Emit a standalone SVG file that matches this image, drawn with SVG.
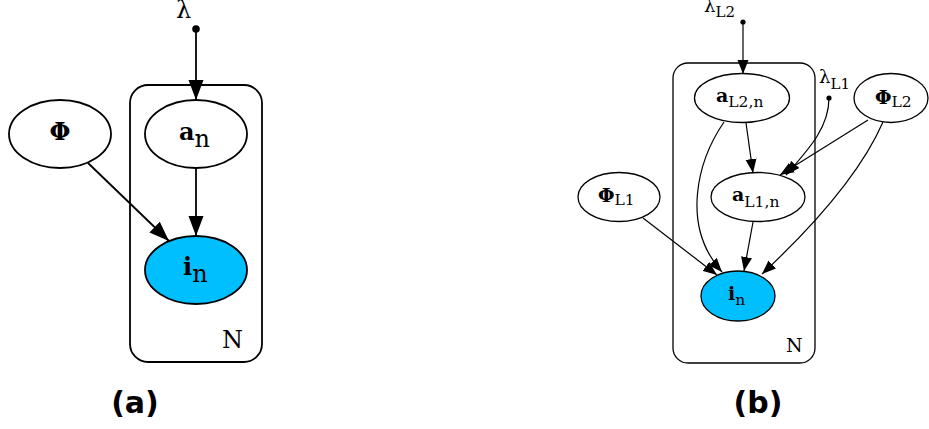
<svg xmlns="http://www.w3.org/2000/svg" width="929" height="429" viewBox="0 0 929 429">
<style>
.e{fill:#fff;stroke:#000;stroke-width:1.8}
.es{fill:#fff;stroke:#000;stroke-width:1.3}
.obs{fill:#00bfff}
.plate{fill:none;stroke:#000;stroke-width:1.8}
.plates{fill:none;stroke:#000;stroke-width:1.3}
.c{fill:none;stroke:#000;stroke-width:1.8}
.cs{fill:none;stroke:#000;stroke-width:1.2}
text{font-family:"DejaVu Serif",serif;fill:#000}
.b{font-weight:bold}
.cap{font-family:"DejaVu Sans",sans-serif;font-weight:bold;font-size:30px}
</style>
<defs>
<marker id="ah" markerUnits="userSpaceOnUse" markerWidth="20" markerHeight="16" refX="20" refY="8" orient="auto">
<path d="M0,0.5 L20,8 L0,15.5 Z" fill="#000"/>
</marker>
<marker id="as" markerUnits="userSpaceOnUse" markerWidth="14" markerHeight="12" refX="14" refY="6" orient="auto">
<path d="M0,0.5 L14,6 L0,11.5 Z" fill="#000"/>
</marker>
</defs>

<!-- Panel (a) -->
<g id="a-plate"><rect class="plate" x="130" y="85" width="132" height="277" rx="18"/><text x="222" y="348" font-size="24">N</text></g>
<g id="a-lambda"><text x="176" y="18" font-size="24">λ</text><circle cx="196" cy="29" r="3.8"/></g>
<g id="a-phi"><ellipse class="e" cx="60" cy="134" rx="51" ry="34"/><text class="b" x="60" y="140" font-size="24" text-anchor="middle">Φ</text></g>
<g id="a-an"><ellipse class="e" cx="196" cy="134" rx="51" ry="34"/><text x="179" y="140" font-size="24"><tspan class="b">a</tspan><tspan y="147">n</tspan></text></g>
<g id="a-in"><ellipse class="e obs" cx="196" cy="270" rx="51" ry="34"/><text x="183" y="275" font-size="24"><tspan class="b">i</tspan><tspan y="282">n</tspan></text></g>
<text class="cap" x="135" y="413" text-anchor="middle">(a)</text>

<!-- Panel (b) -->
<g id="b-plate"><rect class="plates" x="673" y="63" width="142" height="300" rx="15"/><text x="786" y="352" font-size="19">N</text></g>
<g id="b-lambdaL2"><text x="704" y="12" font-size="18">λ<tspan y="17" font-size="15">L2</tspan></text><circle cx="743" cy="22" r="2.6"/></g>
<g id="b-lambdaL1"><text x="819" y="83" font-size="18">λ<tspan y="89" font-size="15">L1</tspan></text><circle cx="829" cy="98" r="2.6"/></g>
<g id="b-aL2n"><ellipse class="es" cx="742" cy="98" rx="47.5" ry="24.5"/><text x="716" y="102" font-size="19"><tspan class="b">a</tspan><tspan y="107" font-size="15.5">L2,n</tspan></text></g>
<g id="b-phiL2"><ellipse class="es" cx="891" cy="98" rx="37" ry="24.5"/><text x="875" y="104" font-size="19"><tspan class="b">Φ</tspan><tspan y="107" font-size="15.5">L2</tspan></text></g>
<g id="b-aL1n"><ellipse class="es" cx="758" cy="197" rx="47" ry="24.5"/><text x="732" y="201" font-size="19"><tspan class="b">a</tspan><tspan y="207" font-size="15.5">L1,n</tspan></text></g>
<g id="b-phiL1"><ellipse class="es" cx="619" cy="197" rx="41" ry="24.5"/><text x="598" y="202" font-size="19"><tspan class="b">Φ</tspan><tspan y="205" font-size="15.5">L1</tspan></text></g>
<g id="b-in"><ellipse class="es obs" cx="738" cy="296" rx="37" ry="25"/><text x="728" y="300" font-size="19"><tspan class="b">i</tspan><tspan y="305" font-size="15.5">n</tspan></text></g>
<text class="cap" x="758" y="413" text-anchor="middle">(b)</text>

<g id="connectors">
<path class="c" d="M196,29 L196,100" marker-end="url(#ah)"/>
<path class="c" d="M196,168 L196,236" marker-end="url(#ah)"/>
<path class="c" d="M88,163 L169,241" marker-end="url(#ah)"/>
<path class="cs" d="M743,22 L743,74" marker-end="url(#as)"/>
<path class="cs" d="M746,123 L753,173" marker-end="url(#as)"/>
<path class="cs" d="M829,98 C829,128 808,150 786,175" marker-end="url(#as)"/>
<path class="cs" d="M868,120 L780,175" marker-end="url(#as)"/>
<path class="cs" d="M883,122 C862,170 820,220 762,274" marker-end="url(#as)"/>
<path class="cs" d="M724,122 C698,160 680,225 722,272" marker-end="url(#as)"/>
<path class="cs" d="M753,222 L744,271" marker-end="url(#as)"/>
<path class="cs" d="M643,218 L717,275" marker-end="url(#as)"/>
</g>
</svg>
